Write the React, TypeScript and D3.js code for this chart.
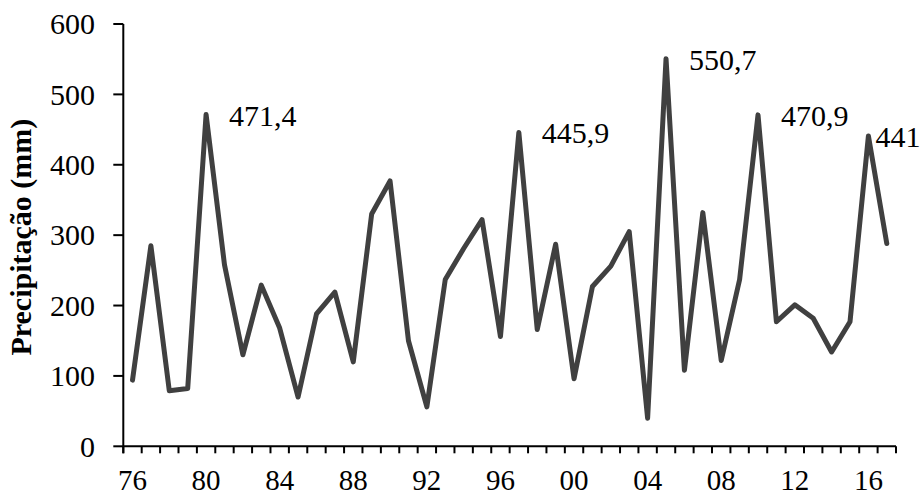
import React from "react";
import * as d3 from "d3";

const years: number[] = d3.range(1976, 2018);
const precip: number[] = [
  94, 285, 79, 82, 471.4, 258, 130, 229, 168, 70,
  188, 219, 120, 330, 377, 150, 56, 237, 281, 322,
  156, 445.9, 166, 287, 96, 227, 256, 305, 40, 550.7,
  108, 332, 122, 237, 470.9, 177, 201, 182, 134, 177,
  441, 288,
];
const yTicks: number[] = [0, 100, 200, 300, 400, 500, 600];
const labelYears: number[] = [1976, 1980, 1984, 1988, 1992, 1996, 2000, 2004, 2008, 2012, 2016];
const annotations: { year: number; text: string }[] = [
  { year: 1980, text: "471,4" },
  { year: 1997, text: "445,9" },
  { year: 2005, text: "550,7" },
  { year: 2010, text: "470,9" },
  { year: 2016, text: "441" },
];

const W = 923;
const H = 497;
const left = 123.3;
const right = 896;
const top = 24;
const bottom = 446.3;
const FONT = "'Liberation Serif', 'Times New Roman', serif";
const FS = 30;

export default function App() {
  const x = d3.scaleBand<number>().domain(years).range([left, right]).padding(0);
  const y = d3.scaleLinear().domain([0, 600]).range([bottom, top]);
  const cx = (yr: number) => (x(yr) as number) + x.bandwidth() / 2;
  const line = d3
    .line<number>()
    .x((_, i) => cx(years[i]))
    .y((d) => y(d));
  const tickXs = years.map((yr) => x(yr) as number).concat([right]);

  return (
    <svg
      width={W}
      height={H}
      style={{ position: "absolute", left: 0, top: 0, background: "#fff" }}
    >
      <rect width={W} height={H} fill="#fff" />
      {/* y axis */}
      <line x1={left} x2={left} y1={top} y2={bottom + 7} stroke="#000" strokeWidth={2} />
      {yTicks.map((t) => (
        <g key={t}>
          <line x1={left - 10} x2={left} y1={y(t)} y2={y(t)} stroke="#000" strokeWidth={2} />
          <text
            x={95}
            y={y(t)}
            dy="0.34em"
            textAnchor="end"
            fontFamily={FONT}
            fontSize={FS}
            fill="#000"
          >
            {t}
          </text>
        </g>
      ))}
      {/* x axis */}
      <line x1={left} x2={right} y1={bottom} y2={bottom} stroke="#000" strokeWidth={2} />
      {tickXs.map((tx, i) => (
        <line key={i} x1={tx} x2={tx} y1={bottom} y2={bottom + 7} stroke="#000" strokeWidth={2} />
      ))}
      {labelYears.map((yr) => (
        <text
          key={yr}
          x={cx(yr)}
          y={490}
          textAnchor="middle"
          fontFamily={FONT}
          fontSize={29}
          fill="#000"
        >
          {String(yr % 100).padStart(2, "0")}
        </text>
      ))}
      {/* y title */}
      <text
        transform={`translate(31, ${(top + bottom) / 2 + 2}) rotate(-90)`}
        textAnchor="middle"
        fontFamily={FONT}
        fontSize={FS}
        fontWeight="bold"
        fill="#000"
      >
        Precipitação (mm)
      </text>
      {/* series */}
      <path
        d={line(precip) || ""}
        fill="none"
        stroke="#404040"
        strokeWidth={5}
        strokeLinejoin="round"
        strokeLinecap="round"
      />
      {annotations.map((a, i) => {
        const idx = years.indexOf(a.year);
        const px = cx(a.year);
        const py = y(precip[idx]);
        const last = i === annotations.length - 1;
        return (
          <text
            key={a.year}
            x={last ? px + 7 : px + 23}
            y={py + 11}
            fontFamily={FONT}
            fontSize={FS}
            fill="#000"
          >
            {a.text}
          </text>
        );
      })}
    </svg>
  );
}
